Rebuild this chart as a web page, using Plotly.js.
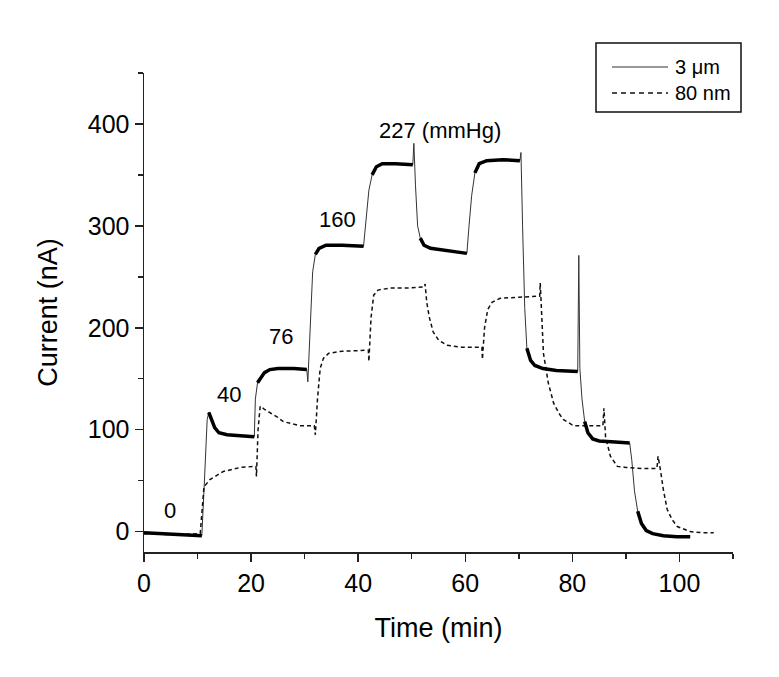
<!DOCTYPE html>
<html>
<head>
<meta charset="utf-8">
<script src="https://cdn.plot.ly/plotly-3.0.1.min.js"></script>
<style>
  body { margin: 0; background: #fff; }
  #chart { width: 779px; height: 677px; }
</style>
</head>
<body>
<div id="chart"></div>
<script>
// 3 um electrode trace (time in min, current in nA)
const solidX = [0, 3, 6, 9, 10.8, 11.2, 11.8, 12.1, 12.6, 13.2, 14, 15.5, 18, 20.6,
  20.8, 21.2, 21.8, 22.5, 23.5, 25, 28, 30.4, 30.6, 31.0, 31.5, 32, 32.7, 34, 37, 41,
  41.4, 42, 42.6, 43.4, 44.5, 47, 50.2, 50.4, 50.7, 51.1, 51.6, 52.3, 53.5, 56, 58, 60.3,
  60.7, 61.2, 61.8, 62.6, 64, 67, 70.2, 70.4, 70.7, 71.1, 71.5, 72.2, 73, 74.5, 77, 81,
  81.2, 81.4, 81.8, 82.3, 82.9, 83.8, 85, 88, 90.7,
  91.1, 91.6, 92.2, 92.9, 93.8, 95, 97, 99.5, 102];
const solidY = [-1, -2, -3, -4, -4, 40, 110, 117, 110, 102, 97, 95, 94, 93,
  130, 146, 151, 156, 159, 160, 160, 159, 147, 200, 255, 272, 278, 281, 281, 280,
  300, 335, 350, 358, 361, 361, 360, 381, 340, 300, 288, 281, 278, 276, 275, 273,
  300, 330, 352, 361, 364, 365, 364, 372, 300, 220, 180, 168, 163, 160, 158, 157,
  271, 160, 130, 108, 97, 91, 89, 88, 87,
  70, 40, 20, 8, 1, -2, -4, -5, -5];

// 80 nm electrode trace
const dashX = [0, 5, 10.5, 10.9, 11.2, 12.3, 13.5, 14.8, 16.5, 18, 20.9,
  21.0, 21.3, 21.7, 22.5, 23.5, 25, 26, 29, 31.8,
  32.0, 32.4, 32.9, 33.5, 34.5, 37, 41.9,
  42.0, 42.4, 42.9, 43.7, 46, 49, 52.3,
  52.5, 52.8, 53.3, 54, 55, 56.5, 59, 63.1,
  63.2, 63.6, 64.2, 65, 66.5, 70, 73.9,
  74.0, 74.3, 74.6, 75.5, 76.5, 77.5, 78.3, 80.2, 83, 85.7,
  85.9, 86.2, 87.1, 88.4, 90, 93, 95.8,
  96.0, 96.4, 97, 97.7, 98.6, 99.6, 102, 104, 106.4];
const dashY = [-2, -3, -2, 20, 44, 51, 55, 59, 61, 63, 64,
  54, 100, 123, 120, 117, 112, 108, 104, 104,
  95, 130, 160, 170, 175, 177, 178,
  167, 210, 232, 237, 239, 239, 240,
  243, 225, 210, 196, 188, 183, 181, 181,
  169, 200, 218, 225, 229, 230, 231,
  244, 200, 175, 146, 126, 116, 110, 104, 104, 104,
  121, 93, 74, 64, 63, 62, 62,
  74, 62, 41, 22, 12, 5, 0, -1, -1];

// pressure labels
const pressX = [4.9, 15.9, 25.6, 36.1, 55.3];
const pressY = [21, 135, 191, 306, 394];
const pressText = ['0', '40', '76', '160', '227 (mmHg)'];

const legendNames = ['3 \u03bcm', '80 nm'];

// heavy (noisy looking) parts of the 3 um trace: the non-steep segments
const heavyX = [], heavyY = [];
let open = false;
for (let i = 0; i < solidX.length - 1; i++) {
  const slope = Math.abs((solidY[i + 1] - solidY[i]) / (solidX[i + 1] - solidX[i]));
  if (slope < 22) {
    if (!open) { heavyX.push(solidX[i]); heavyY.push(solidY[i]); }
    heavyX.push(solidX[i + 1]); heavyY.push(solidY[i + 1]);
    open = true;
  } else if (open) {
    heavyX.push(solidX[i]); heavyY.push(null);
    open = false;
  }
}

const traces = [
  {
    x: solidX, y: solidY, type: 'scatter', mode: 'lines', name: legendNames[0],
    line: { color: '#333', width: 1 }
  },
  {
    x: dashX, y: dashY, type: 'scatter', mode: 'lines', name: legendNames[1],
    line: { color: '#111', width: 1.5, dash: '4px,3px' }
  },
  {
    x: heavyX, y: heavyY, type: 'scatter', mode: 'lines',
    connectgaps: false, line: { color: '#000', width: 3.5 }, hoverinfo: 'skip'
  }
];

const font = { family: 'Arial, "Liberation Sans", sans-serif', color: '#000' };

// hand drawn legend box (the plotly one has a fixed short line sample)
const px = v => (v - 144) / 589;
const py = v => (552 - v) / 479;
const shapes = [
  { type: 'rect', xref: 'paper', yref: 'paper', x0: px(596), x1: px(741), y0: py(112), y1: py(43),
    line: { color: '#111', width: 1.5 }, fillcolor: '#fff' },
  { type: 'line', xref: 'paper', yref: 'paper', x0: px(612), x1: px(668), y0: py(67), y1: py(67),
    line: { color: '#333', width: 1 } },
  { type: 'line', xref: 'paper', yref: 'paper', x0: px(612), x1: px(668), y0: py(93), y1: py(93),
    line: { color: '#111', width: 1.5, dash: '5px,4px' } }
];

const annotations = pressX.map((x, i) => ({
  x: x, y: pressY[i], text: pressText[i], showarrow: false,
  font: { family: font.family, size: 22, color: '#000' }
}));
legendNames.forEach((name, i) => annotations.push({
  xref: 'paper', yref: 'paper', x: px(673), y: py(i === 0 ? 67 : 93),
  xanchor: 'left', yanchor: 'middle', text: name, showarrow: false,
  font: { family: font.family, size: 20, color: '#000' }
}));

const layout = {
  width: 779, height: 677,
  paper_bgcolor: '#fff', plot_bgcolor: '#fff',
  margin: { l: 144, r: 46, t: 73, b: 125 },
  font: font,
  showlegend: false,
  xaxis: {
    range: [0, 110], showline: true, linecolor: '#222', linewidth: 1.5,
    ticks: 'outside', ticklen: 8, tickwidth: 1.5, tickcolor: '#222',
    dtick: 20, tick0: 0, showgrid: false, zeroline: false,
    minor: { dtick: 10, ticks: 'outside', ticklen: 5, tickwidth: 1.5, tickcolor: '#222', showgrid: false },
    tickfont: { family: font.family, size: 25, color: '#000' },
    title: { text: 'Time (min)', font: { family: font.family, size: 27, color: '#000' }, standoff: 22 }
  },
  yaxis: {
    range: [-20, 450], showline: true, linecolor: '#222', linewidth: 1.5,
    ticks: 'outside', ticklen: 8, tickwidth: 1.5, tickcolor: '#222',
    dtick: 100, tick0: 0, showgrid: false, zeroline: false,
    minor: { dtick: 50, ticks: 'outside', ticklen: 5, tickwidth: 1.5, tickcolor: '#222', showgrid: false },
    tickfont: { family: font.family, size: 25, color: '#000' },
    title: { text: 'Current (nA)', font: { family: font.family, size: 27, color: '#000' }, standoff: 22 }
  },
  shapes: shapes,
  annotations: annotations
};

Plotly.newPlot('chart', traces, layout, { displayModeBar: false, staticPlot: true });
</script>
</body>
</html>
